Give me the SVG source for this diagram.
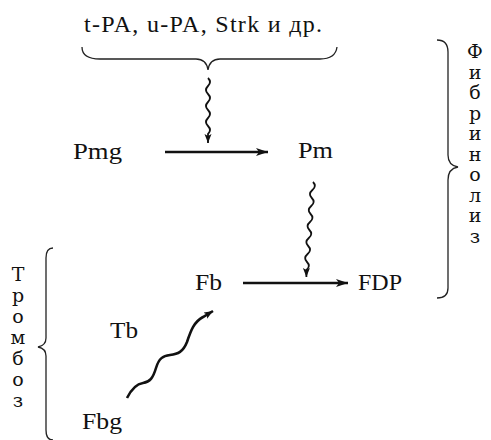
<svg xmlns="http://www.w3.org/2000/svg" width="491" height="440" viewBox="0 0 491 440">
<style>
.lbl{font-family:"Liberation Serif","Times New Roman",serif;font-size:24px;fill:#111}
.top{font-family:"Liberation Serif","Times New Roman",serif;font-size:24px;fill:#111}
.vert{font-family:"DejaVu Serif","Liberation Serif",serif;font-size:19px;fill:#111;text-anchor:middle}
.brace{fill:none;stroke:#222;stroke-width:1.3}
.arrow{fill:none;stroke:#111;stroke-width:2.6}
.wave{fill:none;stroke:#111;stroke-width:1.8}
.wavethick{fill:none;stroke:#111;stroke-width:2.6}
</style>
<defs>
<marker id="ah" markerUnits="userSpaceOnUse" markerWidth="14" markerHeight="10" refX="12" refY="4" orient="auto"><path d="M0,0 L12,4 L0,8 L3,4 z" fill="#111"/></marker>
<marker id="ahs" markerUnits="userSpaceOnUse" markerWidth="12" markerHeight="10" refX="9" refY="3.5" orient="auto"><path d="M0,0 L9,3.5 L0,7 L2,3.5 z" fill="#111"/></marker>
</defs>
<rect width="491" height="440" fill="#fff"/>
<g id="agents"><text class="top" x="84" y="32" textLength="238" lengthAdjust="spacing">t-PA, u-PA, Strk и др.</text></g>
<g id="Pmg"><text class="lbl" x="73" y="159" textLength="49" lengthAdjust="spacingAndGlyphs">Pmg</text></g>
<g id="Pm"><text class="lbl" x="298" y="158" textLength="35" lengthAdjust="spacingAndGlyphs">Pm</text></g>
<g id="Fb"><text class="lbl" x="195" y="290" textLength="27" lengthAdjust="spacingAndGlyphs">Fb</text></g>
<g id="FDP"><text class="lbl" x="358" y="290" textLength="44" lengthAdjust="spacingAndGlyphs">FDP</text></g>
<g id="Tb"><text class="lbl" x="110" y="338" textLength="28" lengthAdjust="spacingAndGlyphs">Tb</text></g>
<g id="Fbg"><text class="lbl" x="82" y="429" textLength="40" lengthAdjust="spacingAndGlyphs">Fbg</text></g>
<g id="fibrinolysis">
<text class="vert" x="475"><tspan x="475" y="58">Ф</tspan><tspan x="475" y="79">и</tspan><tspan x="475" y="99">б</tspan><tspan x="475" y="120">р</tspan><tspan x="475" y="140">и</tspan><tspan x="475" y="161">н</tspan><tspan x="475" y="181">о</tspan><tspan x="475" y="202">л</tspan><tspan x="475" y="222">и</tspan><tspan x="475" y="243">з</tspan></text>
</g>
<g id="thrombosis">
<text class="vert" x="18"><tspan x="18" y="281">Т</tspan><tspan x="18" y="302">р</tspan><tspan x="18" y="323">о</tspan><tspan x="18" y="344">м</tspan><tspan x="18" y="365">б</tspan><tspan x="18" y="386">о</tspan><tspan x="18" y="407">з</tspan></text>
</g>
<g id="braces">
<path class="brace" d="M82,47 C82,55 88,59 100,59 L196,59 C203,59 207,63 208,70 C209,63 213,59 220,59 L320,59 C331,59 336,55 337,47"/>
<path class="brace" d="M437,40 C444,40 448,44 448,52 L448,155 C448,162 452,166 458,167 C452,168 448,172 448,180 L448,288 C448,295 444,298 437,298"/>
<path class="brace" d="M53,248 C48,248 46,252 46,258 L46,338 C46,343 43,346 38,347 C43,348 46,351 46,356 L46,430 C46,436 48,440 53,440"/>
</g>
<g id="connectors">
<line class="arrow" x1="165" y1="152" x2="268" y2="152" marker-end="url(#ah)"/>
<line class="arrow" x1="243" y1="283" x2="348" y2="283" marker-end="url(#ah)"/>
<path class="wave" d="M208,78 q4,4 0,8 t0,8 t0,8 t0,8 t0,8 t0,8 t0,8 l0,9" marker-end="url(#ahs)"/>
<path class="wave" d="M313,182 q4,4 -0.6,8 t-0.6,8 t-0.6,8 t-0.6,8 t-0.6,8 t-0.6,8 t-0.6,8 t-0.6,8 t-0.6,8 t-0.6,8 t-0.6,8 l0,7" marker-end="url(#ahs)"/>
<path class="wavethick" d="M127,398 C131,390 136,384 143,383 C150,382 153,378 156,368 C159,358 163,356 170,355 C178,354 183,352 187,342 C191,330 194,322 203,317 L213,311" marker-end="url(#ahs)"/>
</g>
</svg>
